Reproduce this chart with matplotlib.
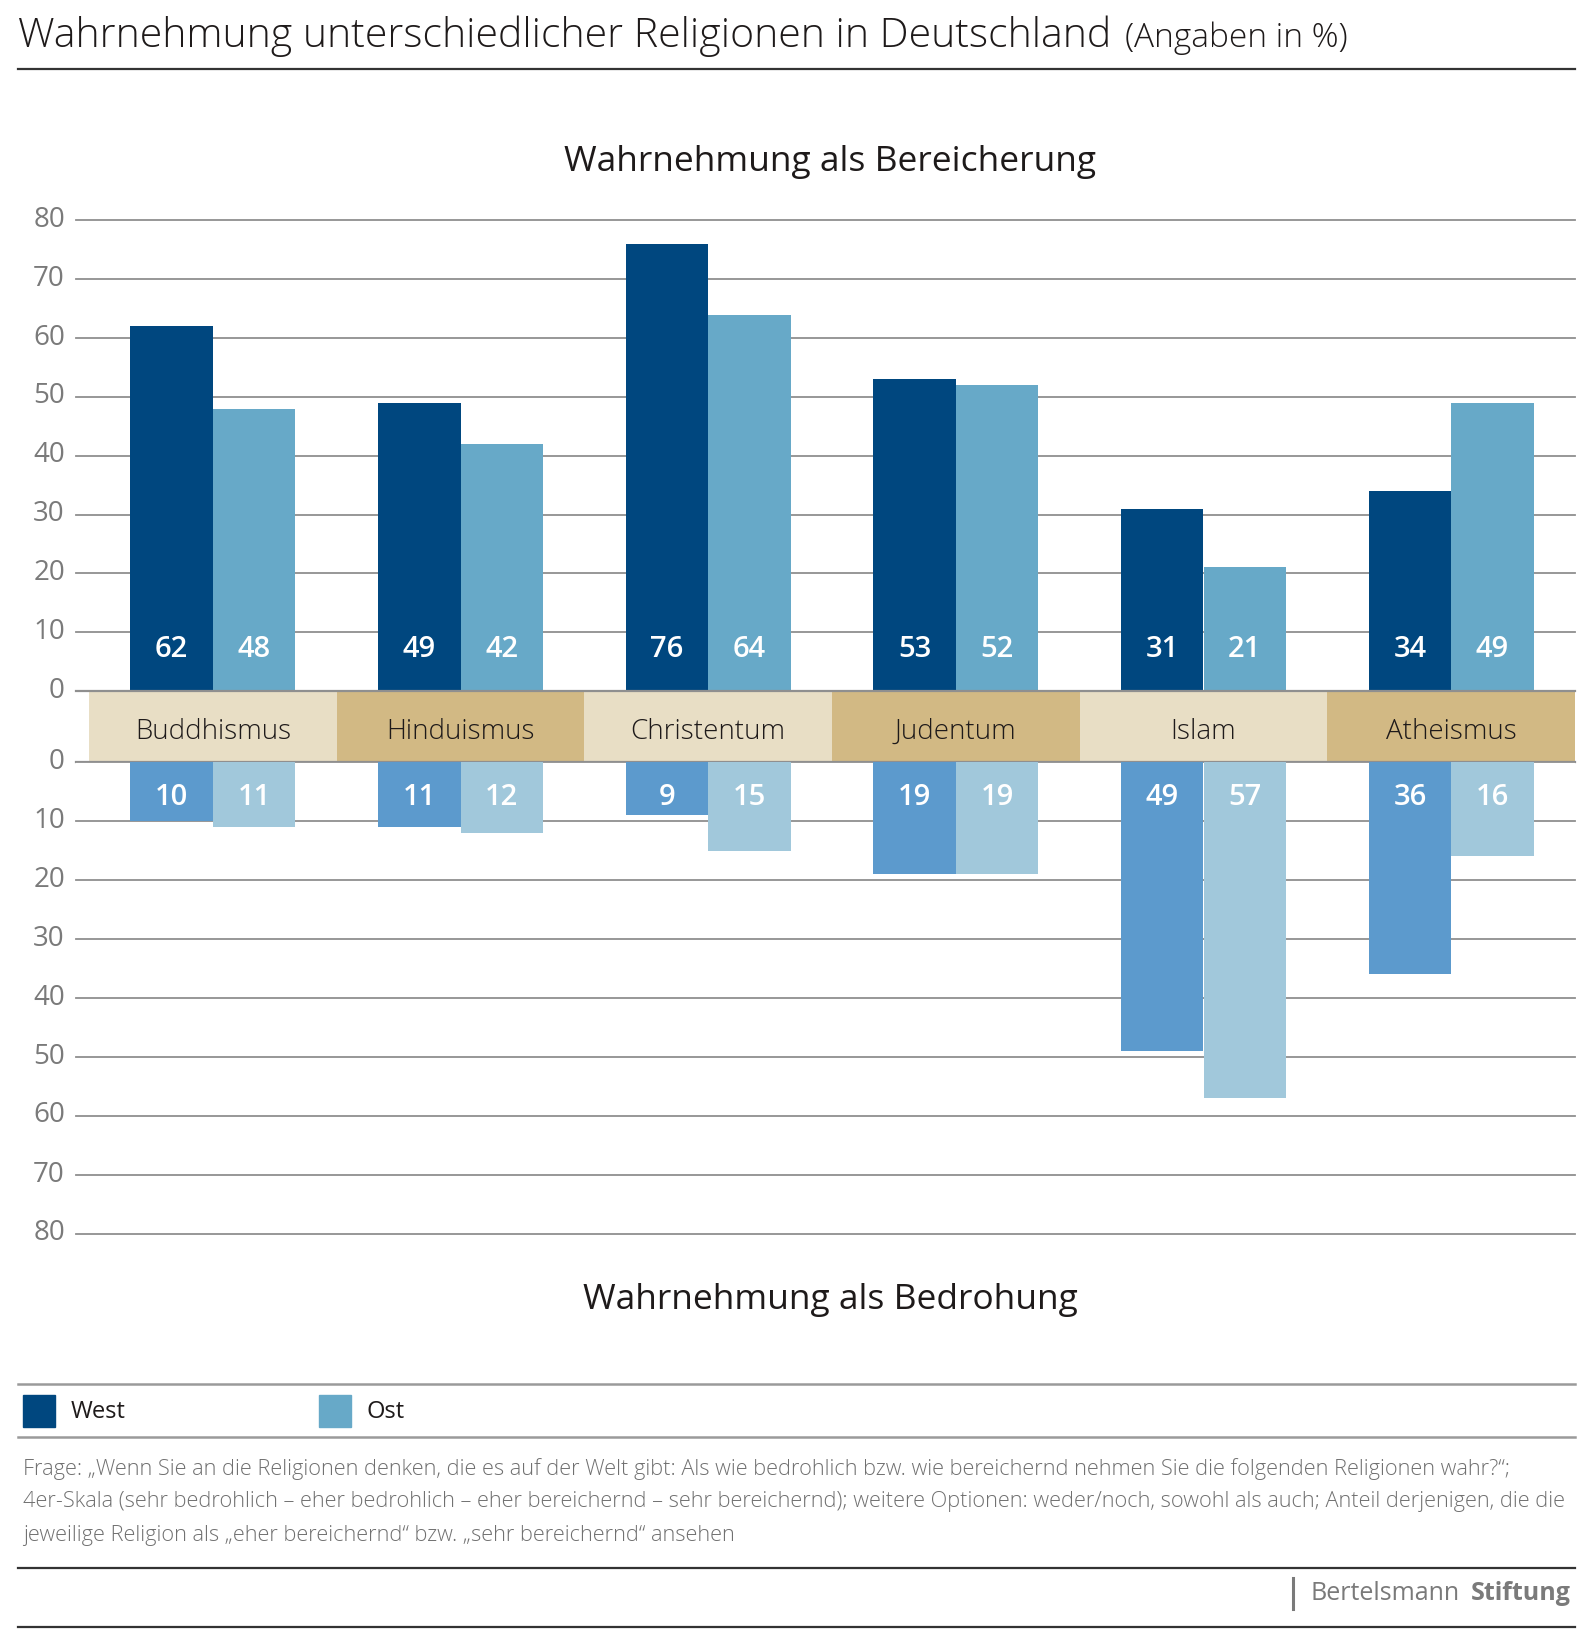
import numpy as np
import matplotlib
matplotlib.use("Agg")
import matplotlib.pyplot as plt
import matplotlib.transforms as mtransforms
from matplotlib.lines import Line2D
from matplotlib.patches import Rectangle

plt.rcParams['font.family'] = ['Open Sans', 'DejaVu Sans']

# --- data ---
categories = ["Buddhismus", "Hinduismus", "Christentum", "Judentum", "Islam", "Atheismus"]
west_bereicherung = [62, 49, 76, 53, 31, 34]
ost_bereicherung = [48, 42, 64, 52, 21, 49]
west_bedrohung = [10, 11, 9, 19, 49, 36]
ost_bedrohung = [11, 12, 15, 19, 57, 16]
y_ticks = list(range(0, 81, 10))

# --- colours ---
c_west_up = "#00477f"
c_ost_up = "#67a9c8"
c_west_dn = "#5c9acd"
c_ost_dn = "#a1c8db"
c_band = ["#e8dec5", "#d2b984"]
c_grid = "#8f8f8f"
c_tick = "#7a7a7a"
c_text = "#1e1a1a"

W, H = 1595, 1641
fig = plt.figure(figsize=(W / 100, H / 100), dpi=100)


def fx(px):
    return px / W


def fy(py):
    return 1 - py / H


def add_axes_px(x0, y_top, x1, y_bot):
    return fig.add_axes([fx(x0), fy(y_bot), (x1 - x0) / W, (y_bot - y_top) / H])


def hrule(y, x0=18, x1=1575, color="#333333", lw=1.6):
    fig.add_artist(Line2D([fx(x0), fx(x1)], [fy(y), fy(y)], color=color, lw=lw))


# plot geometry (pixels)
grid_x0, band_x0, x_right = 76, 89, 1575
cat_w = (x_right - band_x0) / len(categories)
xlim = (-(band_x0 - grid_x0) / cat_w, len(categories))
bar_w = 1 / 3
x = np.arange(len(categories)) + 0.5

ax_up = add_axes_px(grid_x0, 220.5, x_right, 691)
ax_band = add_axes_px(grid_x0, 691, x_right, 762)
ax_dn = add_axes_px(grid_x0, 762, x_right, 1234)

tick_offset = mtransforms.ScaledTranslation(0, 4 / 100, fig.dpi_scale_trans)

for ax in (ax_up, ax_dn):
    ax.set_xlim(*xlim)
    ax.set_yticks(y_ticks)
    ax.set_xticks([])
    ax.tick_params(axis='y', length=0, pad=8, labelsize=20, labelcolor=c_tick)
    for lab in ax.get_yticklabels():
        lab.set_transform(lab.get_transform() + tick_offset)
    ax.yaxis.grid(True, color=c_grid, lw=1.3)
    for gl in ax.get_ygridlines():
        gl.set_clip_on(False)
    ax.set_axisbelow(True)
    for s in ax.spines.values():
        s.set_visible(False)

ax_up.set_ylim(0, 80)
ax_dn.set_ylim(80, 0)

# bars: Bereicherung
ax_up.bar(x - bar_w / 2, west_bereicherung, bar_w, color=c_west_up, zorder=3)
ax_up.bar(x + bar_w / 2, ost_bereicherung, bar_w, color=c_ost_up, zorder=3)
for xi, w, o in zip(x, west_bereicherung, ost_bereicherung):
    ax_up.text(xi - bar_w / 2, 7.0, str(w), ha='center', va='center', color='white',
               fontsize=21, fontweight='semibold', zorder=4)
    ax_up.text(xi + bar_w / 2, 7.0, str(o), ha='center', va='center', color='white',
               fontsize=21, fontweight='semibold', zorder=4)

# bars: Bedrohung
ax_dn.bar(x - bar_w / 2, west_bedrohung, bar_w, color=c_west_dn, zorder=3)
ax_dn.bar(x + bar_w / 2, ost_bedrohung, bar_w, color=c_ost_dn, zorder=3)
for xi, w, o in zip(x, west_bedrohung, ost_bedrohung):
    ax_dn.text(xi - bar_w / 2, 6.0, str(w), ha='center', va='center', color='white',
               fontsize=21, fontweight='semibold', zorder=4)
    ax_dn.text(xi + bar_w / 2, 6.0, str(o), ha='center', va='center', color='white',
               fontsize=21, fontweight='semibold', zorder=4)

# category band
ax_band.set_xlim(*xlim)
ax_band.set_ylim(0, 1)
ax_band.axis('off')
ax_band.bar(x, [1] * len(categories), 1.0, bottom=0,
            color=[c_band[i % 2] for i in range(len(categories))], zorder=1)
for xi, name in zip(x, categories):
    ax_band.text(xi, 0.42, name, ha='center', va='center', fontsize=20,
                 color=c_text, fontweight='light')
for yv in (0, 1):
    ax_band.axhline(yv, color=c_grid, lw=1.6, zorder=2, clip_on=False)

# titles
title = fig.text(fx(18), fy(36), "Wahrnehmung unterschiedlicher Religionen in Deutschland",
                 fontsize=29.5, color=c_text, va='center', ha='left', fontweight='light')
renderer = fig.canvas.get_renderer()
tb = title.get_window_extent(renderer)
fig.text(fx(tb.x1 + 14), fy(38), "(Angaben in %)", fontsize=24, color=c_text,
         va='center', ha='left', fontweight='light')
hrule(69)

fig.text(fx(830), fy(162), "Wahrnehmung als Bereicherung", fontsize=25.5,
         color=c_text, ha='center', va='center')
fig.text(fx(830), fy(1300), "Wahrnehmung als Bedrohung", fontsize=25.5,
         color=c_text, ha='center', va='center')

# legend
hrule(1384, color="#9a9a9a", lw=1.8)
hrule(1437, color="#9a9a9a", lw=1.8)
for sx, col, lab in ((23, c_west_up, "West"), (319, c_ost_up, "Ost")):
    fig.add_artist(Rectangle((fx(sx), fy(1427)), 32 / W, 32 / H,
                             transform=fig.transFigure, color=col))
    fig.text(fx(sx + 48), fy(1412), lab, fontsize=17, color=c_text,
             ha='left', va='center')

# footnote
foot_lines = [
    "Frage: \u201eWenn Sie an die Religionen denken, die es auf der Welt gibt: Als wie bedrohlich bzw. "
    "wie bereichernd nehmen Sie die folgenden Religionen wahr?\u201c;",
    "4er-Skala (sehr bedrohlich \u2013 eher bedrohlich \u2013 eher bereichernd \u2013 sehr bereichernd); "
    "weitere Optionen: weder/noch, sowohl als auch; Anteil derjenigen, die die",
    "jeweilige Religion als \u201eeher bereichernd\u201c bzw. \u201esehr bereichernd\u201c ansehen",
]
for i, line in enumerate(foot_lines):
    fig.text(fx(23), fy(1469 + i * 33), line, fontsize=15.7, color="#707070",
             ha='left', va='center', fontweight='light')

hrule(1568)
hrule(1627)

# logo
fig.add_artist(Line2D([fx(1293), fx(1293)], [fy(1578), fy(1609)], color="#7a7a7a", lw=2.2))
fig.text(fx(1571), fy(1594), "Stiftung", fontsize=18, color="#7a7a7a",
         fontweight='bold', ha='right', va='center')
fig.text(fx(1460), fy(1594), "Bertelsmann", fontsize=18, color="#7a7a7a",
         ha='right', va='center')

fig.savefig("out.png", dpi=100)
